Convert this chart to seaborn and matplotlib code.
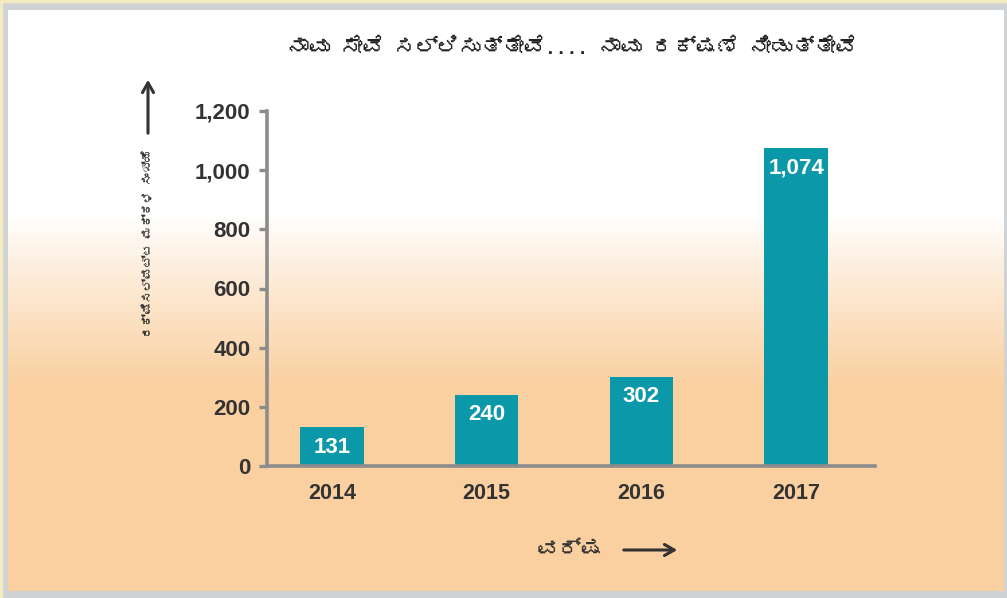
import numpy as np
import pandas as pd
import matplotlib
matplotlib.use("Agg")
import matplotlib.pyplot as plt
from matplotlib import font_manager
from matplotlib.ft2font import FT2Font
from matplotlib.patches import Rectangle, FancyArrowPatch
import seaborn as sns

# ---- data ----
years = ["2014", "2015", "2016", "2017"]
counts = [131, 240, 302, 1074]
value_labels = ["131", "240", "302", "1,074"]
yticks = [0, 200, 400, 600, 800, 1000, 1200]
ytick_labels = ["0", "200", "400", "600", "800", "1,000", "1,200"]
title_text = "ನಾವು ಸೇವೆ ಸಲ್ಲಿಸುತ್ತೇವೆ.... ನಾವು ರಕ್ಷಣೆ ನೀಡುತ್ತೇವೆ"
xlabel_text = "ವರ್ಷ"
ylabel_text = "ರಕ್ಷಿಸಲ್ಪಟ್ಟ ಮಕ್ಕಳ ಸಂಖ್ಯೆ"

sns.set_theme(style="white")

# find a font with Kannada glyphs, if any
kn_family = None
for f in font_manager.fontManager.ttflist:
    try:
        if 0x0C95 in FT2Font(f.fname).get_charmap():
            kn_family = f.name
            break
    except Exception:
        pass
base = ["Liberation Sans", "DejaVu Sans"]
kn_fams = ([kn_family] if kn_family else []) + base
plt.rcParams["font.family"] = base

W, H = 1007, 598
fig = plt.figure(figsize=(W / 100, H / 100), dpi=100)
fig.patch.set_facecolor("#cfd3d6")
# thin yellowish edge lines
fig.add_artist(Rectangle((0, 0), 2 / W, 1, transform=fig.transFigure, color="#f3ecc0", zorder=0))
fig.add_artist(Rectangle((0, 1 - 1.5 / H), 1, 1.5 / H, transform=fig.transFigure, color="#f3ecc0", zorder=0))

# gradient panel
px0, px1, py0, py1 = 8, 1004, 10, 591
bg = fig.add_axes([px0 / W, 1 - py1 / H, (px1 - px0) / W, (py1 - py0) / H], zorder=0)
rows = np.arange(py0, py1)
t = np.clip((rows - 215) / (385 - 215), 0, 1)
t = t ** 0.9
top = np.array([1.0, 1.0, 1.0])
bot = np.array([250, 208, 160]) / 255
grad = top[None, :] * (1 - t[:, None]) + bot[None, :] * t[:, None]
img = np.repeat(grad[:, None, :], 10, axis=1)
bg.imshow(img, aspect="auto", extent=[0, 1, 0, 1], origin="upper")
bg.set_axis_off()

# main axes
ax_l, ax_r, ax_b, ax_t = 267, 875, 466, 111
ax = fig.add_axes([ax_l / W, 1 - ax_b / H, (ax_r - ax_l) / W, (ax_b - ax_t) / H], zorder=2)
ax.patch.set_alpha(0)

df = pd.DataFrame({"year": years, "count": counts})
sns.barplot(data=df, x="year", y="count", color="#0b98a8", saturation=1,
            width=0.41, ax=ax, edgecolor="none")

ax.set_ylim(0, 1200)
ax.set_xlim(-0.42, 3.51)
ax.set_yticks(yticks)
ax.set_yticklabels(ytick_labels)
ax.set_xlabel("")
ax.set_ylabel("")
for s in ["top", "right"]:
    ax.spines[s].set_visible(False)
for s in ["left", "bottom"]:
    ax.spines[s].set_color("#8c8c8c")
    ax.spines[s].set_linewidth(2.6)
ax.tick_params(axis="y", which="both", left=True, length=6, width=2.4, color="#8c8c8c",
               pad=6, labelsize=16, labelcolor="#333333")
ax.tick_params(axis="x", bottom=False, pad=6, labelsize=15.5, labelcolor="#333333")
for lab in ax.get_yticklabels() + ax.get_xticklabels():
    lab.set_fontweight("bold")

for i, (v, lab) in enumerate(zip(counts, value_labels)):
    ax.annotate(lab, (i, v), xytext=(0, -20), textcoords="offset pixels",
                ha="center", va="center", color="white", fontsize=16, fontweight="bold")

# title
fig.text(572 / W, 1 - 47 / H, title_text, ha="center", va="center", fontsize=15.5,
         fontweight="bold", color="#222222", family=kn_fams)
# y label and arrow
fig.text(148 / W, 1 - 243 / H, ylabel_text, rotation=90, ha="center", va="center",
         fontsize=8.5, fontweight="bold", color="#333333", family=kn_fams)
fig.add_artist(FancyArrowPatch(
    (148 / W, 1 - 136 / H), (148 / W, 1 - 77 / H), transform=fig.transFigure,
    arrowstyle="->,head_length=7,head_width=4", color="#333333", lw=2.2, mutation_scale=1))
# x label and arrow
fig.text(570 / W, 1 - 550 / H, xlabel_text, ha="center", va="center", fontsize=16,
         fontweight="bold", color="#333333", family=kn_fams)
fig.add_artist(FancyArrowPatch(
    (621 / W, 1 - 550 / H), (680 / W, 1 - 550 / H), transform=fig.transFigure,
    arrowstyle="->,head_length=7,head_width=4", color="#333333", lw=2.2, mutation_scale=1))

fig.savefig("out.png", dpi=100, facecolor=fig.get_facecolor())
